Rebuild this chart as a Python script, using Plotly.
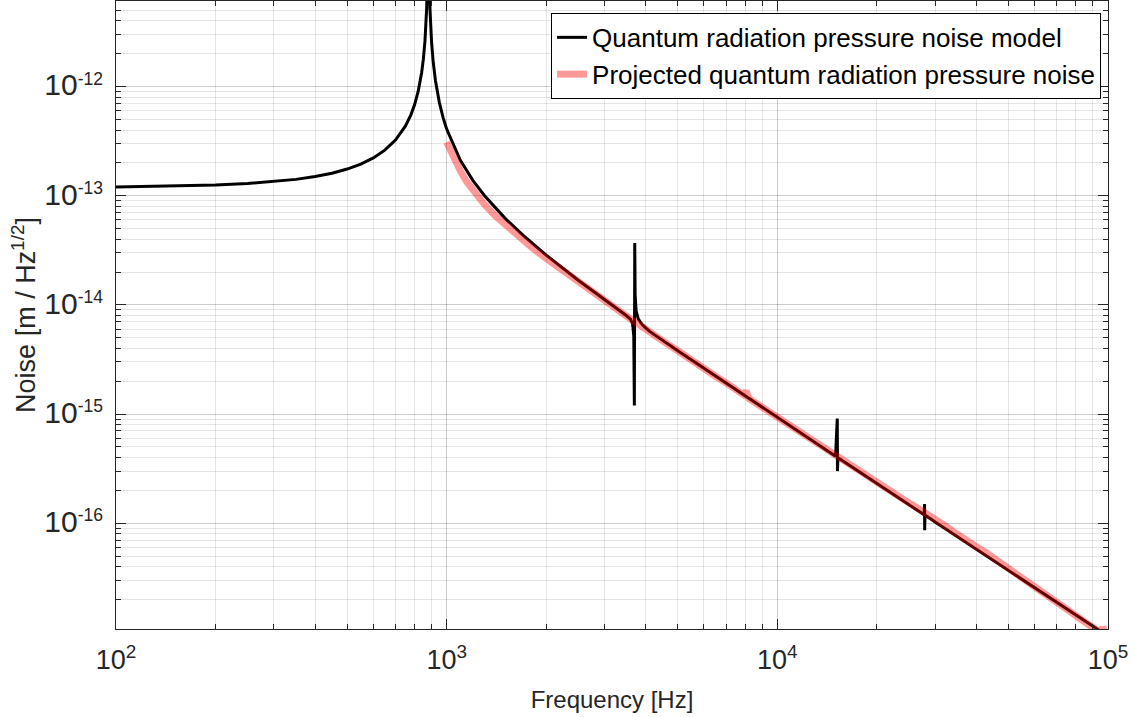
import plotly.graph_objects as go

# Frequências [Hz] e ruído do modelo [m/Hz^1/2]
model_freq = [100, 150, 200, 250, 300, 350, 400, 450, 500, 550, 600, 650, 700, 750,
              780, 800, 820, 840, 850, 860, 870, 875, 880, 885, 890, 900, 910, 925,
              950, 975, 1000, 1100, 1200, 1300, 1400, 1500, 1700, 2000, 2500, 3000,
              3300, 3500, 3600, 3650, 3680, 3695, 3705, 3715, 3740, 3800, 3900, 4100,
              5000, 6000, 7000, 8000, 10000, 12000, 14000, 15000, 15180, 15200, 15250,
              17000, 20000, 25000, 27800, 27880, 27900, 27950, 30000, 40000, 50000,
              60000, 70000, 80000, 90000, 95000, 100000]
model_noise = [1.206e-13, 1.226e-13, 1.255e-13, 1.295e-13, 1.347e-13, 1.414e-13,
               1.500e-13, 1.611e-13, 1.757e-13, 1.953e-13, 2.224e-13, 2.619e-13,
               3.240e-13, 4.349e-13, 5.552e-13, 6.857e-13, 9.035e-13, 1.340e-12,
               1.776e-12, 2.648e-12, 5.265e-12, 1.049e-11, 3.0e-11, 1.045e-11,
               5.205e-12, 2.589e-12, 1.715e-12, 1.135e-12, 7.194e-13, 5.230e-13,
               4.085e-13, 2.116e-13, 1.385e-13, 1.007e-13, 7.772e-14, 6.245e-14,
               4.356e-14, 2.857e-14, 1.683e-14, 1.120e-14, 9.110e-15, 7.950e-15,
               7.350e-15, 6.700e-15, 5.200e-15, 1.200e-15, 3.700e-14, 1.250e-14,
               8.800e-15, 7.400e-15, 6.600e-15, 5.750e-15, 3.797e-15, 2.618e-15,
               1.911e-15, 1.457e-15, 9.287e-16, 6.434e-16, 4.720e-16, 4.110e-16,
               9.100e-16, 3.000e-16, 3.980e-16, 3.197e-16, 2.308e-16, 1.476e-16,
               1.194e-16, 1.500e-16, 8.600e-17, 1.185e-16, 1.025e-16, 5.762e-17,
               3.687e-17, 2.560e-17, 1.881e-17, 1.440e-17, 1.138e-17, 1.021e-17,
               9.216e-18]

# Ruído projetado
proj_freq = [1000, 1050, 1100, 1150, 1200, 1300, 1400, 1500, 1600, 1800, 2000, 2200,
             2500, 2800, 3000, 3300, 3600, 3800, 4000, 4500, 5000, 5500, 6000, 6500,
             7000, 7500, 7900, 8050, 8200, 8500, 9000, 10000, 11000, 12000, 13000,
             14000, 15000, 16000, 18000, 20000, 22000, 24000, 26000, 28000, 30000,
             32000, 34000, 36000, 38000, 40000, 43000, 46000, 50000, 54000, 58000,
             62000, 66000, 70000, 74000, 78000, 82000, 86000, 89000, 92000, 95500,
             96500, 98000]
proj_noise = [3.10e-13, 2.19e-13, 1.69e-13, 1.345e-13, 1.12e-13, 8.35e-14, 6.60e-14,
              5.43e-14, 4.54e-14, 3.40e-14, 2.66e-14, 2.15e-14, 1.63e-14, 1.265e-14,
              1.098e-14, 8.84e-15, 7.40e-15, 6.68e-15, 5.94e-15, 4.68e-15, 3.80e-15,
              3.09e-15, 2.64e-15, 2.22e-15, 1.93e-15, 1.66e-15, 1.50e-15, 1.62e-15,
              1.39e-15, 1.29e-15, 1.15e-15, 9.30e-16, 7.70e-16, 6.45e-16, 5.50e-16,
              4.75e-16, 4.15e-16, 3.65e-16, 2.88e-16, 2.35e-16, 1.95e-16, 1.66e-16,
              1.43e-16, 1.25e-16, 1.09e-16, 9.60e-17, 8.40e-17, 7.60e-17, 6.75e-17,
              6.10e-17, 5.30e-17, 4.60e-17, 3.92e-17, 3.35e-17, 2.90e-17, 2.52e-17,
              2.20e-17, 1.93e-17, 1.70e-17, 1.50e-17, 1.34e-17, 1.21e-17, 1.10e-17,
              1.02e-17, 9.8e-18, 1.12e-17, 9.8e-18]

x_exp = [2, 3, 4, 5]
y_exp = [-16, -15, -14, -13, -12]

axis_col = "rgb(38,38,38)"
font = "Liberation Sans, Arial, sans-serif"

fig = go.Figure()
fig.add_trace(go.Scatter(x=model_freq, y=model_noise, mode="lines",
                         name="Quantum radiation pressure noise model",
                         line=dict(color="black", width=3)))
fig.add_trace(go.Scatter(x=proj_freq, y=proj_noise, mode="lines",
                         name="Projected quantum radiation pressure noise",
                         line=dict(color="rgba(255,0,0,0.4)", width=7)))

x_minor = [m * 10 ** e for e in x_exp[:-1] for m in range(2, 10)]
y_minor = [m * 10.0 ** e for e in [-17] + y_exp for m in range(2, 10)]

common = dict(type="log", showline=True, linecolor=axis_col, linewidth=1,
              mirror="allticks", ticks="inside", ticklen=10, tickcolor=axis_col,
              showgrid=True, gridcolor="rgba(0,0,0,0.2)", gridwidth=1,
              zeroline=False, tickmode="array", automargin=False)

fig.update_xaxes(**common, range=[2, 5],
                 tickvals=[10 ** e for e in x_exp],
                 ticktext=["10<sup>%d</sup>" % e for e in x_exp],
                 tickfont=dict(size=27, color=axis_col, family=font),
                 ticklabelstandoff=7,
                 minor=dict(tickmode="array", tickvals=x_minor, ticks="inside",
                            ticklen=5, tickcolor=axis_col, showgrid=True,
                            gridcolor="rgba(0,0,0,0.1)"),
                 title=dict(text="Frequency [Hz]", font=dict(size=24, color=axis_col, family=font),
                            standoff=16))
fig.update_yaxes(**common, range=[-16.97, -11.215],
                 tickvals=[10.0 ** e for e in y_exp],
                 ticktext=["<span style='font-size:30px'>10</span><sup>%d</sup>" % e for e in y_exp],
                 tickfont=dict(size=25, color=axis_col, family=font),
                 ticklabelstandoff=7,
                 minor=dict(tickmode="array", tickvals=y_minor, ticks="inside",
                            ticklen=5, tickcolor=axis_col, showgrid=True,
                            gridcolor="rgba(0,0,0,0.1)"),
                 title=dict(text="Noise [m / Hz<sup>1/2</sup>]",
                            font=dict(size=27, color=axis_col, family=font), standoff=0))

fig.update_layout(
    width=1135, height=717,
    margin=dict(l=116, r=27, t=1, b=88),
    paper_bgcolor="white", plot_bgcolor="white",
    showlegend=True,
    legend=dict(x=0.993, y=0.981, xanchor="right", yanchor="top",
                bgcolor="white", bordercolor="black", borderwidth=1,
                font=dict(size=26, color="black", family=font),
                tracegroupgap=0),
)

# sem a margem padrão do <body>, para a figura ficar no canto da página
fig.write_html("out.html", config={"displayModeBar": False},
               post_script="document.body.style.margin = '0px';")
